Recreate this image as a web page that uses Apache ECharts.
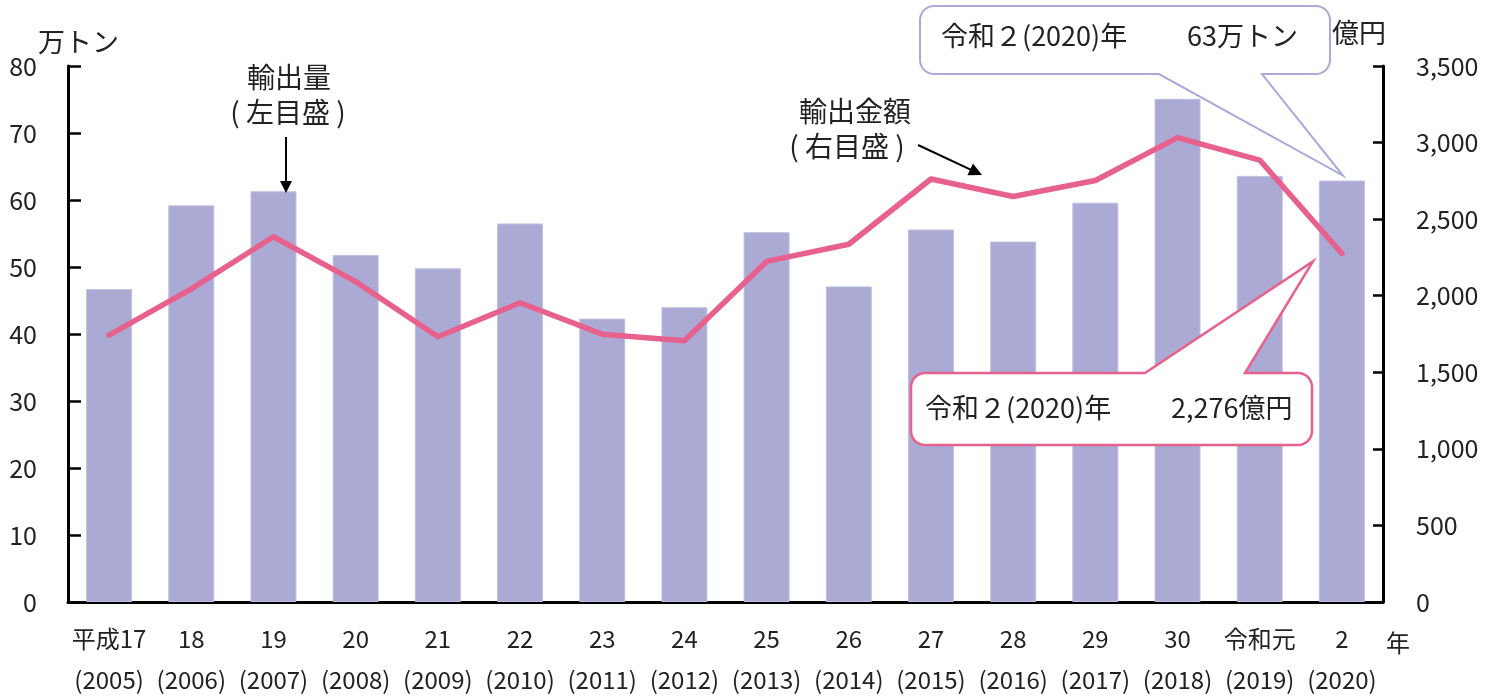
<!DOCTYPE html>
<html><head><meta charset="utf-8">
<script src="https://cdn.jsdelivr.net/npm/echarts@6.0.0/dist/echarts.min.js"></script>
<style>html,body{margin:0;padding:0;background:#fff}#c{width:1496px;height:700px}</style>
</head><body><div id="c"></div>
<script>
// ---- data ----
const categories = ['平成17\n(2005)','18\n(2006)','19\n(2007)','20\n(2008)','21\n(2009)','22\n(2010)','23\n(2011)','24\n(2012)','25\n(2013)','26\n(2014)','27\n(2015)','28\n(2016)','29\n(2017)','30\n(2018)','令和元\n(2019)','2\n(2020)'];
const exportVolume = [46.7, 59.2, 61.3, 51.8, 49.8, 56.5, 42.3, 44.0, 55.2, 47.1, 55.6, 53.8, 59.6, 75.1, 63.6, 62.9]; // 万トン
const exportValue = [1742, 2045, 2385, 2092, 1732, 1954, 1749, 1706, 2224, 2336, 2762, 2648, 2752, 3032, 2885, 2276]; // 億円
const leftAxis = {min: 0, max: 80, interval: 10};
const rightAxis = {min: 0, max: 3500, interval: 500};
const volumeCallout = ['令和２(2020)年', '63万トン'];
const valueCallout = ['令和２(2020)年', '2,276億円'];

const FONT = '"Noto Sans CJK JP", "Noto Sans", sans-serif';
const BAR = '#abaad5';
const PINK = '#e8608c';
const CALLOUT_PURPLE = '#a9a9da';
const TXT = '#222';

const chart = echarts.init(document.getElementById('c'), null, {renderer: 'canvas'});
chart.setOption({
  animation: false,
  backgroundColor: '#fff',
  textStyle: {fontFamily: FONT},
  grid: {left: 68, right: 113, top: 66, bottom: 93, containLabel: false},
  xAxis: {
    type: 'category', data: categories,
    axisLine: {show: true, lineStyle: {color: '#000', width: 3}},
    axisTick: {show: false},
    axisLabel: {interval: 0, fontSize: 24, lineHeight: 41, margin: 16, color: TXT, fontFamily: FONT}
  },
  yAxis: [
    {type: 'value', min: leftAxis.min, max: leftAxis.max, interval: leftAxis.interval, position: 'left',
     axisLine: {show: true, lineStyle: {color: '#000', width: 3}},
     axisTick: {show: true, inside: true, length: 13, lineStyle: {color: '#000', width: 2.5}},
     splitLine: {show: false},
     axisLabel: {fontSize: 25, margin: 31, color: TXT, fontFamily: FONT, padding: [6, 0, 0, 0]}},
    {type: 'value', min: rightAxis.min, max: rightAxis.max, interval: rightAxis.interval, position: 'right',
     axisLine: {show: true, lineStyle: {color: '#000', width: 3}},
     axisTick: {show: true, inside: true, length: 10, lineStyle: {color: '#000', width: 2.5}},
     splitLine: {show: false},
     axisLabel: {fontSize: 25, margin: 33, color: TXT, fontFamily: FONT, padding: [6, 0, 0, 0],
       formatter: v => v.toLocaleString('en-US')}}
  ],
  series: [
    {type: 'bar', name: '輸出量', data: exportVolume, yAxisIndex: 0, barWidth: 46,
     itemStyle: {color: BAR, borderColor: '#bfbfe3', borderWidth: 1}, z: 2},
    {type: 'line', name: '輸出金額', data: exportValue, yAxisIndex: 1, symbol: 'none',
     lineStyle: {color: PINK, width: 5.5, join: 'round', cap: 'round'}, z: 3}
  ]
});

function roundedCallout(x, y, w, h, r, side, b1, b2, tip) {
  const pts = [];
  const arc = (cx, cy, a0, a1) => {
    for (let i = 0; i <= 8; i++) {
      const a = (a0 + (a1 - a0) * i / 8) * Math.PI / 180;
      pts.push([cx + r * Math.cos(a), cy + r * Math.sin(a)]);
    }
  };
  arc(x + r, y + r, 180, 270);
  if (side === 'top') { pts.push([b1, y], tip, [b2, y]); }
  arc(x + w - r, y + r, 270, 360);
  arc(x + w - r, y + h - r, 0, 90);
  if (side === 'bottom') { pts.push([b2, y + h], tip, [b1, y + h]); }
  arc(x + r, y + h - r, 90, 180);
  return pts;
}

function arrow(x1, y1, x2, y2, head, half) {
  const dx = x2 - x1, dy = y2 - y1, L = Math.hypot(dx, dy);
  const ux = dx / L, uy = dy / L, px = -uy, py = ux;
  const bx = x2 - ux * head, by = y2 - uy * head;
  return [
    {type: 'line', z: 100, shape: {x1: x1, y1: y1, x2: bx + ux, y2: by + uy}, style: {stroke: '#000', lineWidth: 2}},
    {type: 'polygon', z: 100, shape: {points: [[x2, y2], [bx + px * half, by + py * half], [bx - px * half, by - py * half]]}, style: {fill: '#000'}}
  ];
}

const last = categories.length - 1;
const barTop = chart.convertToPixel({xAxisIndex: 0, yAxisIndex: 0}, [last, exportVolume[last]]);
const linePt = chart.convertToPixel({xAxisIndex: 0, yAxisIndex: 1}, [last, exportValue[last]]);
const tipTop = [barTop[0] + 1, barTop[1] - 5];
const tipBottom = [linePt[0] - 29, linePt[1] + 8];

const txt = (text, x, y, size, align) => ({type: 'text', z: 101, x: x, y: y,
  style: {text: text, fontSize: size, fontFamily: FONT, fill: TXT, align: align || 'left', verticalAlign: 'middle'}});

const graphics = [
  // axis names
  txt('万トン', 38, 42, 27),
  txt('億円', 1332, 33, 27),
  txt('年', 1386, 643, 24),
  // annotations
  txt('輸出量', 289, 77, 28, 'center'),
  txt('( 左目盛 )', 288, 112, 28, 'center'),
  ...arrow(286, 137, 286, 193, 12, 6),
  txt('輸出金額', 855, 111, 28, 'center'),
  txt('( 右目盛 )', 847, 146, 28, 'center'),
  ...arrow(918, 145, 982, 175, 13, 6.5),
  // callouts
  {type: 'polygon', z: 100, shape: {points: roundedCallout(920, 6, 410, 68, 14, 'bottom', 1159, 1262, tipTop)},
   style: {fill: '#fff', stroke: CALLOUT_PURPLE, lineWidth: 2}},
  txt(volumeCallout[0], 941, 36, 27),
  txt(volumeCallout[1], 1187, 36, 27),
  {type: 'polygon', z: 100, shape: {points: roundedCallout(911, 373, 401, 72, 14, 'top', 1145, 1245, tipBottom)},
   style: {fill: '#fff', stroke: PINK, lineWidth: 2.5}},
  txt(valueCallout[0], 925, 408, 27),
  txt(valueCallout[1], 1171, 408, 27)
];
chart.setOption({graphic: graphics});
</script>
</body></html>
